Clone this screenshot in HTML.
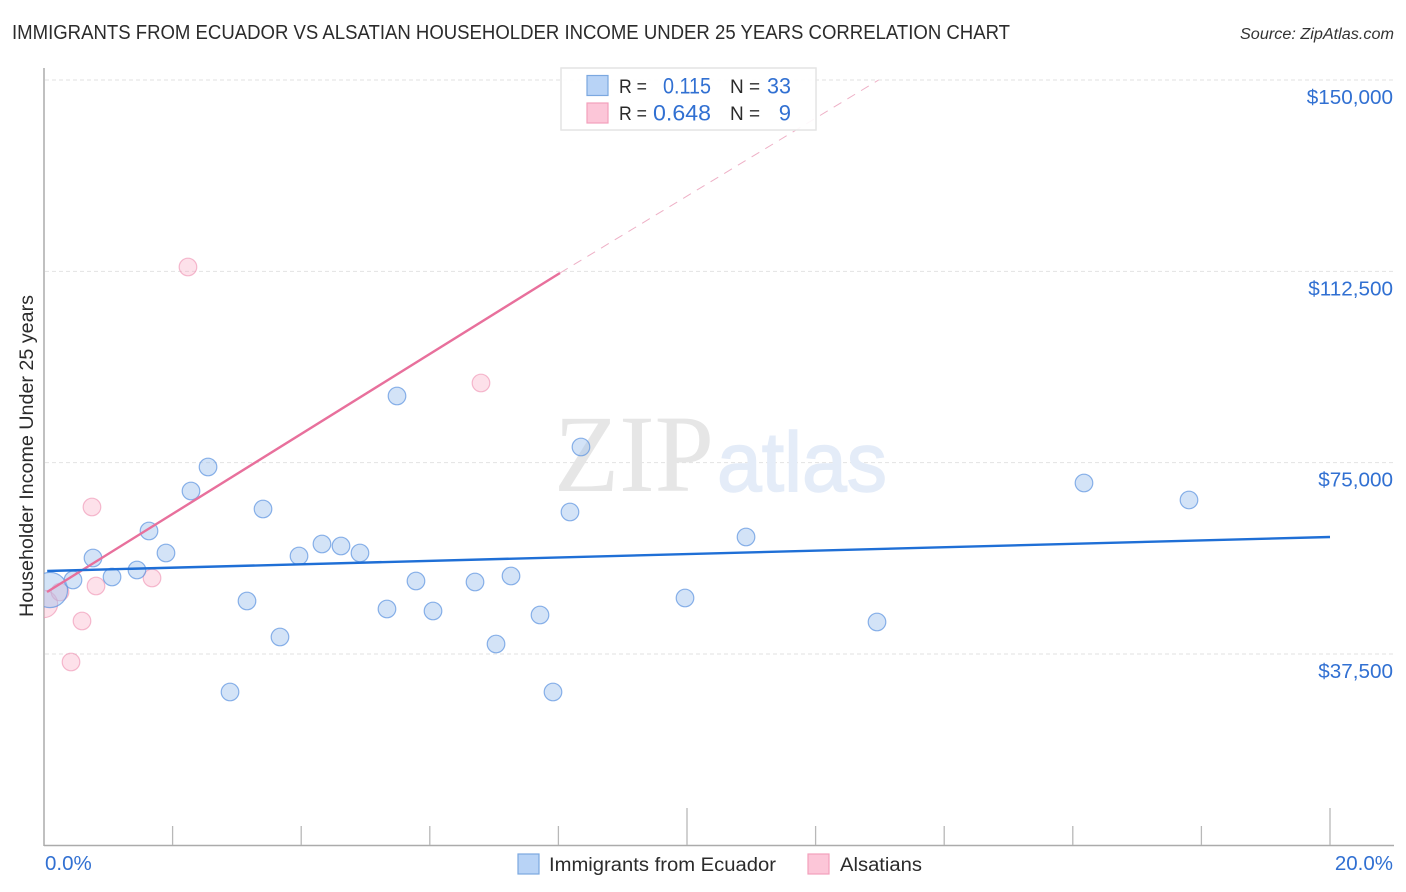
<!DOCTYPE html>
<html lang="en">
<head>
<meta charset="utf-8">
<title>Immigrants from Ecuador vs Alsatian Householder Income Under 25 Years Correlation Chart</title>
<style>
html,body{margin:0;padding:0;background:#fff;width:1406px;height:892px;overflow:hidden}
svg{display:block;font-family:"Liberation Sans",sans-serif}
</style>
</head>
<body>
<svg id="chart" width="1406" height="892" viewBox="0 0 1406 892" xmlns="http://www.w3.org/2000/svg">
<defs>
<clipPath id="plot-clip"><rect x="44" y="60" width="1350" height="785"/></clipPath>
</defs>
<rect width="1406" height="892" fill="#ffffff"/>
<text x="12" y="39" font-size="20" fill="#2b2b2b" textLength="998" lengthAdjust="spacingAndGlyphs">IMMIGRANTS FROM ECUADOR VS ALSATIAN HOUSEHOLDER INCOME UNDER 25 YEARS CORRELATION CHART</text>
<text x="1394" y="39" font-size="15.5" font-style="italic" fill="#333333" text-anchor="end" textLength="154" lengthAdjust="spacingAndGlyphs">Source: ZipAtlas.com</text>
<g id="grid-layer"></g>
<g>
<text x="554" y="491" font-family="'Liberation Serif',serif" font-size="110" fill="#e6e6e6" textLength="160" lengthAdjust="spacingAndGlyphs">ZIP</text>
<text x="717" y="491" font-size="84" fill="#e4ecf8" stroke="#e4ecf8" stroke-width="1.5" textLength="170" lengthAdjust="spacingAndGlyphs">atlas</text>
</g>
<g id="axis-layer"></g>
<g id="point-layer" clip-path="url(#plot-clip)"></g>
<g id="trend-layer"></g>
<g id="tick-label-layer"></g>
<text transform="translate(33,456) rotate(-90)" font-size="19" fill="#2b2b2b" text-anchor="middle" textLength="322" lengthAdjust="spacingAndGlyphs">Householder Income Under 25 years</text>
<g>
<rect x="561" y="68" width="255" height="62" fill="#ffffff" fill-opacity="0.9" stroke="#e4e4e4" stroke-width="1.5"/>
<rect x="587" y="75.500" width="21" height="20" fill="#b8d3f6" stroke="#7ba8e0" stroke-width="1.2"/>
<rect x="587" y="103" width="21" height="20" fill="#fcc6d8" stroke="#f2a0bc" stroke-width="1.2"/>
<text x="619" y="93" font-size="19" fill="#2b2b2b" textLength="28" lengthAdjust="spacingAndGlyphs">R =</text>
<text x="711" y="93.500" font-size="22" fill="#3170d2" text-anchor="end" textLength="48" lengthAdjust="spacingAndGlyphs">0.115</text>
<text x="730" y="93" font-size="19" fill="#2b2b2b">N =</text>
<text x="791" y="93.500" font-size="22" fill="#3170d2" text-anchor="end" textLength="24" lengthAdjust="spacingAndGlyphs">33</text>
<text x="619" y="120" font-size="19" fill="#2b2b2b" textLength="28" lengthAdjust="spacingAndGlyphs">R =</text>
<text x="711" y="120.500" font-size="22" fill="#3170d2" text-anchor="end" textLength="58" lengthAdjust="spacingAndGlyphs">0.648</text>
<text x="730" y="120" font-size="19" fill="#2b2b2b">N =</text>
<text x="791" y="120.500" font-size="22" fill="#3170d2" text-anchor="end">9</text>
</g>
<g>
<rect x="518" y="854" width="21" height="20" fill="#b8d3f6" stroke="#7ba8e0" stroke-width="1.2"/>
<text x="549" y="871" font-size="19" fill="#2b2b2b" textLength="227" lengthAdjust="spacingAndGlyphs">Immigrants from Ecuador</text>
<rect x="808" y="854" width="21" height="20" fill="#fcc6d8" stroke="#f2a0bc" stroke-width="1.2"/>
<text x="840" y="871" font-size="19" fill="#2b2b2b" textLength="82" lengthAdjust="spacingAndGlyphs">Alsatians</text>
</g>
</svg>
<script>
const yTickValues = [37500, 75000, 112500, 150000];
const yTickLabels = ["$37,500", "$75,000", "$112,500", "$150,000"];
const xTickValues = [0, 2, 4, 6, 8, 10, 12, 14, 16, 18, 20];
const xMajorTicks = [0, 10, 20];
const xEndLabels = ["0.0%", "20.0%"];

const ecuadorX = [0.093, 0.451, 0.762, 1.058, 1.446, 1.633, 1.897, 2.286, 2.551, 2.893, 3.157, 3.406, 3.670, 3.966, 4.323, 4.619, 4.914, 5.334, 5.490, 5.785, 6.050, 6.703, 7.030, 7.263, 7.714, 7.916, 8.180, 8.351, 9.969, 10.918, 12.955, 16.174, 17.807];
const ecuadorY = [50043, 52003, 56315, 52591, 53963, 61607, 57295, 69446, 74150, 30052, 47887, 65919, 40832, 56707, 59059, 58667, 57295, 46320, 88065, 51807, 45928, 51611, 39460, 52787, 45144, 30052, 65331, 78070, 48475, 60431, 43772, 71014, 67682];
const ecuadorWeight = [4, 1, 1, 1, 1, 1, 1, 1, 1, 1, 1, 1, 1, 1, 1, 1, 1, 1, 1, 1, 1, 1, 1, 1, 1, 1, 1, 1, 1, 1, 1, 1, 1];

const alsatianX = [0, 0.249, 0.420, 0.591, 0.809, 0.746, 1.680, 2.239, 6.796];
const alsatianY = [47300, 49651, 35932, 43968, 50827, 66311, 52395, 113348, 90613];
const alsatianWeight = [2.4, 1, 1, 1, 1, 1, 1, 1, 1];

const ecuadorTrendX = [0.05, 20];
const ecuadorTrendY = [53767, 60431];
const alsatianTrendX = [0.047, 8.025];
const alsatianTrendY = [49651, 112172];
const alsatianDashX = [8.025, 12.98];
const alsatianDashY = [112172, 150000];

const NS = "http://www.w3.org/2000/svg";
const xScale = v => 44 + (v / 20) * 1286;
const yScale = v => 654 - ((v - 37500) / 112500) * 574;

function make(tag, parent, attrs) {
  const el = document.createElementNS(NS, tag);
  for (const k in attrs) el.setAttribute(k, attrs[k]);
  parent.appendChild(el);
  return el;
}

const gridLayer = document.getElementById("grid-layer");
const axisLayer = document.getElementById("axis-layer");
const pointLayer = document.getElementById("point-layer");
const trendLayer = document.getElementById("trend-layer");
const tickLabelLayer = document.getElementById("tick-label-layer");

yTickValues.forEach((v, i) => {
  const grid = make("line", gridLayer, {x1: 45, x2: 1394, y1: yScale(v), y2: yScale(v), stroke: "#e2e2e2", "stroke-width": 1, "stroke-dasharray": "4 3"});
  
  
  const label = make("text", tickLabelLayer, {x: 1393, y: yScale(v) + 24, "font-size": 20.7, fill: "#3170d2", "text-anchor": "end"});
  
  
  label.textContent = yTickLabels[i];
});

const yAxis = make("line", axisLayer, {x1: 44, x2: 44, y1: 68, y2: 846, stroke: "#ababab", "stroke-width": 1.5});


const xAxis = make("line", axisLayer, {x1: 44, x2: 1394, y1: 845.5, y2: 845.5, stroke: "#ababab", "stroke-width": 1.5});


xTickValues.forEach(v => {
  if (v === 0) return;
  const top = xMajorTicks.includes(v) ? 808 : 826;
  const tick = make("line", axisLayer, {x1: xScale(v), x2: xScale(v), y1: top, y2: 845, stroke: "#b8b8b8", "stroke-width": 1.3});
  
  
});

const xLabelStart = make("text", tickLabelLayer, {x: 45, y: 870, "font-size": 20.5, fill: "#3170d2"});


xLabelStart.textContent = xEndLabels[0];
const xLabelEnd = make("text", tickLabelLayer, {x: 1393, y: 870, "font-size": 20.5, fill: "#3170d2", "text-anchor": "end"});


xLabelEnd.textContent = xEndLabels[1];

alsatianX.forEach((v, i) => {
  const c = make("circle", pointLayer, {cx: xScale(v), cy: yScale(alsatianY[i]), r: 8.8 * Math.sqrt(alsatianWeight[i]), fill: "#f8a8c4", "fill-opacity": 0.35, stroke: "#ee90b0", "stroke-opacity": 0.6, "stroke-width": 1.2});
  
  
});
ecuadorX.forEach((v, i) => {
  const c = make("circle", pointLayer, {cx: xScale(v), cy: yScale(ecuadorY[i]), r: 8.8 * Math.sqrt(ecuadorWeight[i]), fill: "#9dc0ee", "fill-opacity": 0.45, stroke: "#5b93e0", "stroke-opacity": 0.7, "stroke-width": 1.2});
  
  
});

const alsatianDash = make("line", trendLayer, {x1: xScale(alsatianDashX[0]), y1: yScale(alsatianDashY[0]), x2: xScale(alsatianDashX[1]), y2: yScale(alsatianDashY[1]), stroke: "#eeb0c6", "stroke-width": 1, "stroke-dasharray": "9 7"});


const alsatianTrend = make("line", trendLayer, {x1: xScale(alsatianTrendX[0]), y1: yScale(alsatianTrendY[0]), x2: xScale(alsatianTrendX[1]), y2: yScale(alsatianTrendY[1]), stroke: "#e8709c", "stroke-width": 2.4});


const ecuadorTrend = make("line", trendLayer, {x1: xScale(ecuadorTrendX[0]), y1: yScale(ecuadorTrendY[0]), x2: xScale(ecuadorTrendX[1]), y2: yScale(ecuadorTrendY[1]), stroke: "#1f6fd6", "stroke-width": 2.4});


</script>
</body>
</html>
